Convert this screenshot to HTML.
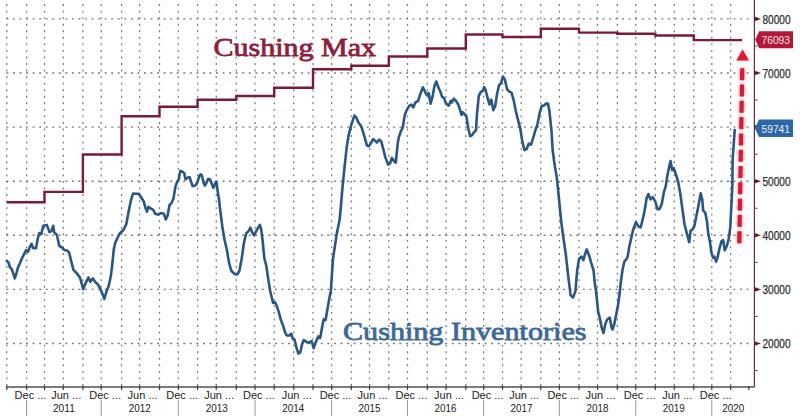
<!DOCTYPE html><html><head><meta charset="utf-8"><style>html,body{margin:0;padding:0;background:#fff;}svg{display:block}</style></head><body>
<svg width="800" height="416" viewBox="0 0 800 416">
<rect width="800" height="416" fill="#fff"/>
<line x1="6.80" y1="-2.45" x2="6.80" y2="386" stroke="#767676" stroke-width="1.25" stroke-dasharray="1.9 4.65"/>
<line x1="26.60" y1="-2.45" x2="26.60" y2="386" stroke="#767676" stroke-width="1.25" stroke-dasharray="1.9 4.65"/>
<line x1="44.50" y1="-2.45" x2="44.50" y2="386" stroke="#767676" stroke-width="1.25" stroke-dasharray="1.9 4.65"/>
<line x1="63.25" y1="-2.45" x2="63.25" y2="386" stroke="#767676" stroke-width="1.25" stroke-dasharray="1.9 4.65"/>
<line x1="82.90" y1="-2.45" x2="82.90" y2="386" stroke="#767676" stroke-width="1.25" stroke-dasharray="1.9 4.65"/>
<line x1="101.20" y1="-2.45" x2="101.20" y2="386" stroke="#767676" stroke-width="1.25" stroke-dasharray="1.9 4.65"/>
<line x1="121.60" y1="-2.45" x2="121.60" y2="386" stroke="#767676" stroke-width="1.25" stroke-dasharray="1.9 4.65"/>
<line x1="139.60" y1="-2.45" x2="139.60" y2="386" stroke="#767676" stroke-width="1.25" stroke-dasharray="1.9 4.65"/>
<line x1="159.50" y1="-2.45" x2="159.50" y2="386" stroke="#767676" stroke-width="1.25" stroke-dasharray="1.9 4.65"/>
<line x1="178.30" y1="-2.45" x2="178.30" y2="386" stroke="#767676" stroke-width="1.25" stroke-dasharray="1.9 4.65"/>
<line x1="197.60" y1="-2.45" x2="197.60" y2="386" stroke="#767676" stroke-width="1.25" stroke-dasharray="1.9 4.65"/>
<line x1="216.25" y1="-2.45" x2="216.25" y2="386" stroke="#767676" stroke-width="1.25" stroke-dasharray="1.9 4.65"/>
<line x1="236.30" y1="-2.45" x2="236.30" y2="386" stroke="#767676" stroke-width="1.25" stroke-dasharray="1.9 4.65"/>
<line x1="255.00" y1="-2.45" x2="255.00" y2="386" stroke="#767676" stroke-width="1.25" stroke-dasharray="1.9 4.65"/>
<line x1="274.20" y1="-2.45" x2="274.20" y2="386" stroke="#767676" stroke-width="1.25" stroke-dasharray="1.9 4.65"/>
<line x1="293.75" y1="-2.45" x2="293.75" y2="386" stroke="#767676" stroke-width="1.25" stroke-dasharray="1.9 4.65"/>
<line x1="313.00" y1="-2.45" x2="313.00" y2="386" stroke="#767676" stroke-width="1.25" stroke-dasharray="1.9 4.65"/>
<line x1="331.65" y1="-2.45" x2="331.65" y2="386" stroke="#767676" stroke-width="1.25" stroke-dasharray="1.9 4.65"/>
<line x1="351.30" y1="-2.45" x2="351.30" y2="386" stroke="#767676" stroke-width="1.25" stroke-dasharray="1.9 4.65"/>
<line x1="369.55" y1="-2.45" x2="369.55" y2="386" stroke="#767676" stroke-width="1.25" stroke-dasharray="1.9 4.65"/>
<line x1="388.80" y1="-2.45" x2="388.80" y2="386" stroke="#767676" stroke-width="1.25" stroke-dasharray="1.9 4.65"/>
<line x1="407.50" y1="-2.45" x2="407.50" y2="386" stroke="#767676" stroke-width="1.25" stroke-dasharray="1.9 4.65"/>
<line x1="427.30" y1="-2.45" x2="427.30" y2="386" stroke="#767676" stroke-width="1.25" stroke-dasharray="1.9 4.65"/>
<line x1="446.10" y1="-2.45" x2="446.10" y2="386" stroke="#767676" stroke-width="1.25" stroke-dasharray="1.9 4.65"/>
<line x1="465.80" y1="-2.45" x2="465.80" y2="386" stroke="#767676" stroke-width="1.25" stroke-dasharray="1.9 4.65"/>
<line x1="483.65" y1="-2.45" x2="483.65" y2="386" stroke="#767676" stroke-width="1.25" stroke-dasharray="1.9 4.65"/>
<line x1="502.50" y1="-2.45" x2="502.50" y2="386" stroke="#767676" stroke-width="1.25" stroke-dasharray="1.9 4.65"/>
<line x1="521.15" y1="-2.45" x2="521.15" y2="386" stroke="#767676" stroke-width="1.25" stroke-dasharray="1.9 4.65"/>
<line x1="540.80" y1="-2.45" x2="540.80" y2="386" stroke="#767676" stroke-width="1.25" stroke-dasharray="1.9 4.65"/>
<line x1="559.40" y1="-2.45" x2="559.40" y2="386" stroke="#767676" stroke-width="1.25" stroke-dasharray="1.9 4.65"/>
<line x1="579.00" y1="-2.45" x2="579.00" y2="386" stroke="#767676" stroke-width="1.25" stroke-dasharray="1.9 4.65"/>
<line x1="597.50" y1="-2.45" x2="597.50" y2="386" stroke="#767676" stroke-width="1.25" stroke-dasharray="1.9 4.65"/>
<line x1="617.30" y1="-2.45" x2="617.30" y2="386" stroke="#767676" stroke-width="1.25" stroke-dasharray="1.9 4.65"/>
<line x1="635.75" y1="-2.45" x2="635.75" y2="386" stroke="#767676" stroke-width="1.25" stroke-dasharray="1.9 4.65"/>
<line x1="655.30" y1="-2.45" x2="655.30" y2="386" stroke="#767676" stroke-width="1.25" stroke-dasharray="1.9 4.65"/>
<line x1="674.25" y1="-2.45" x2="674.25" y2="386" stroke="#767676" stroke-width="1.25" stroke-dasharray="1.9 4.65"/>
<line x1="693.80" y1="-2.45" x2="693.80" y2="386" stroke="#767676" stroke-width="1.25" stroke-dasharray="1.9 4.65"/>
<line x1="711.80" y1="-2.45" x2="711.80" y2="386" stroke="#767676" stroke-width="1.25" stroke-dasharray="1.9 4.65"/>
<line x1="730.60" y1="-2.45" x2="730.60" y2="386" stroke="#767676" stroke-width="1.25" stroke-dasharray="1.9 4.65"/>
<line x1="6.45" y1="343.50" x2="752" y2="343.50" stroke="#767676" stroke-width="1.4" stroke-dasharray="1.9 4.65"/>
<line x1="6.45" y1="289.40" x2="752" y2="289.40" stroke="#767676" stroke-width="1.4" stroke-dasharray="1.9 4.65"/>
<line x1="6.45" y1="235.30" x2="752" y2="235.30" stroke="#767676" stroke-width="1.4" stroke-dasharray="1.9 4.65"/>
<line x1="6.45" y1="181.20" x2="752" y2="181.20" stroke="#767676" stroke-width="1.4" stroke-dasharray="1.9 4.65"/>
<line x1="6.45" y1="127.10" x2="752" y2="127.10" stroke="#767676" stroke-width="1.4" stroke-dasharray="1.9 4.65"/>
<line x1="6.45" y1="73.00" x2="752" y2="73.00" stroke="#767676" stroke-width="1.4" stroke-dasharray="1.9 4.65"/>
<line x1="6.45" y1="18.90" x2="752" y2="18.90" stroke="#767676" stroke-width="1.4" stroke-dasharray="1.9 4.65"/>
<path d="M6.7 202.3 H44.5 V191.9 H82.9 V154.5 H121.6 V116.2 H159.5 V106.7 H197.6 V99.8 H236.3 V96 H274.2 V87.7 H313 V69.3 H351.3 V65.8 H388.8 V56.5 H427.3 V48.5 H465.8 V34.5 H502.5 V37 H540.8 V28.8 H579 V32.6 H617.3 V33.8 H655.3 V35.5 H693.8 V40.1 H742" fill="none" stroke="#7a1b38" stroke-width="2.4" stroke-linejoin="miter"/>
<line x1="754.4" y1="0" x2="754.4" y2="387" stroke="#5e3042" stroke-width="1.2"/>
<line x1="754" y1="316.45" x2="757.8" y2="316.45" stroke="#555" stroke-width="1"/>
<line x1="754" y1="262.35" x2="757.8" y2="262.35" stroke="#555" stroke-width="1"/>
<line x1="754" y1="208.25" x2="757.8" y2="208.25" stroke="#555" stroke-width="1"/>
<line x1="754" y1="154.15" x2="757.8" y2="154.15" stroke="#555" stroke-width="1"/>
<line x1="754" y1="100.05" x2="757.8" y2="100.05" stroke="#555" stroke-width="1"/>
<line x1="754" y1="45.95" x2="757.8" y2="45.95" stroke="#555" stroke-width="1"/>
<line x1="754" y1="370.55" x2="757.8" y2="370.55" stroke="#555" stroke-width="1"/>
<path d="M754.5 341.20 L761 343.50 L754.5 345.80 Z" fill="#6b1530"/>
<text x="762.5" y="348.10" font-family="Liberation Sans" font-size="12" fill="#2e2e2e" stroke="#2e2e2e" stroke-width="0.25" textLength="28" lengthAdjust="spacingAndGlyphs">20000</text>
<path d="M754.5 287.10 L761 289.40 L754.5 291.70 Z" fill="#6b1530"/>
<text x="762.5" y="294.00" font-family="Liberation Sans" font-size="12" fill="#2e2e2e" stroke="#2e2e2e" stroke-width="0.25" textLength="28" lengthAdjust="spacingAndGlyphs">30000</text>
<path d="M754.5 233.00 L761 235.30 L754.5 237.60 Z" fill="#6b1530"/>
<text x="762.5" y="239.90" font-family="Liberation Sans" font-size="12" fill="#2e2e2e" stroke="#2e2e2e" stroke-width="0.25" textLength="28" lengthAdjust="spacingAndGlyphs">40000</text>
<path d="M754.5 178.90 L761 181.20 L754.5 183.50 Z" fill="#6b1530"/>
<text x="762.5" y="185.80" font-family="Liberation Sans" font-size="12" fill="#2e2e2e" stroke="#2e2e2e" stroke-width="0.25" textLength="28" lengthAdjust="spacingAndGlyphs">50000</text>
<path d="M754.5 124.80 L761 127.10 L754.5 129.40 Z" fill="#6b1530"/>
<text x="762.5" y="131.70" font-family="Liberation Sans" font-size="12" fill="#2e2e2e" stroke="#2e2e2e" stroke-width="0.25" textLength="28" lengthAdjust="spacingAndGlyphs">60000</text>
<path d="M754.5 70.70 L761 73.00 L754.5 75.30 Z" fill="#6b1530"/>
<text x="762.5" y="77.60" font-family="Liberation Sans" font-size="12" fill="#2e2e2e" stroke="#2e2e2e" stroke-width="0.25" textLength="28" lengthAdjust="spacingAndGlyphs">70000</text>
<path d="M754.5 16.60 L761 18.90 L754.5 21.20 Z" fill="#6b1530"/>
<text x="762.5" y="23.50" font-family="Liberation Sans" font-size="12" fill="#2e2e2e" stroke="#2e2e2e" stroke-width="0.25" textLength="28" lengthAdjust="spacingAndGlyphs">80000</text>
<line x1="6.5" y1="386.9" x2="754.5" y2="386.9" stroke="#505050" stroke-width="1.5"/>
<line x1="6.80" y1="386" x2="6.80" y2="390" stroke="#3a3a3a" stroke-width="1.2"/>
<line x1="26.60" y1="386" x2="26.60" y2="390" stroke="#3a3a3a" stroke-width="1.2"/>
<line x1="44.50" y1="386" x2="44.50" y2="390" stroke="#3a3a3a" stroke-width="1.2"/>
<line x1="63.25" y1="386" x2="63.25" y2="390" stroke="#3a3a3a" stroke-width="1.2"/>
<line x1="82.90" y1="386" x2="82.90" y2="390" stroke="#3a3a3a" stroke-width="1.2"/>
<line x1="101.20" y1="386" x2="101.20" y2="390" stroke="#3a3a3a" stroke-width="1.2"/>
<line x1="121.60" y1="386" x2="121.60" y2="390" stroke="#3a3a3a" stroke-width="1.2"/>
<line x1="139.60" y1="386" x2="139.60" y2="390" stroke="#3a3a3a" stroke-width="1.2"/>
<line x1="159.50" y1="386" x2="159.50" y2="390" stroke="#3a3a3a" stroke-width="1.2"/>
<line x1="178.30" y1="386" x2="178.30" y2="390" stroke="#3a3a3a" stroke-width="1.2"/>
<line x1="197.60" y1="386" x2="197.60" y2="390" stroke="#3a3a3a" stroke-width="1.2"/>
<line x1="216.25" y1="386" x2="216.25" y2="390" stroke="#3a3a3a" stroke-width="1.2"/>
<line x1="236.30" y1="386" x2="236.30" y2="390" stroke="#3a3a3a" stroke-width="1.2"/>
<line x1="255.00" y1="386" x2="255.00" y2="390" stroke="#3a3a3a" stroke-width="1.2"/>
<line x1="274.20" y1="386" x2="274.20" y2="390" stroke="#3a3a3a" stroke-width="1.2"/>
<line x1="293.75" y1="386" x2="293.75" y2="390" stroke="#3a3a3a" stroke-width="1.2"/>
<line x1="313.00" y1="386" x2="313.00" y2="390" stroke="#3a3a3a" stroke-width="1.2"/>
<line x1="331.65" y1="386" x2="331.65" y2="390" stroke="#3a3a3a" stroke-width="1.2"/>
<line x1="351.30" y1="386" x2="351.30" y2="390" stroke="#3a3a3a" stroke-width="1.2"/>
<line x1="369.55" y1="386" x2="369.55" y2="390" stroke="#3a3a3a" stroke-width="1.2"/>
<line x1="388.80" y1="386" x2="388.80" y2="390" stroke="#3a3a3a" stroke-width="1.2"/>
<line x1="407.50" y1="386" x2="407.50" y2="390" stroke="#3a3a3a" stroke-width="1.2"/>
<line x1="427.30" y1="386" x2="427.30" y2="390" stroke="#3a3a3a" stroke-width="1.2"/>
<line x1="446.10" y1="386" x2="446.10" y2="390" stroke="#3a3a3a" stroke-width="1.2"/>
<line x1="465.80" y1="386" x2="465.80" y2="390" stroke="#3a3a3a" stroke-width="1.2"/>
<line x1="483.65" y1="386" x2="483.65" y2="390" stroke="#3a3a3a" stroke-width="1.2"/>
<line x1="502.50" y1="386" x2="502.50" y2="390" stroke="#3a3a3a" stroke-width="1.2"/>
<line x1="521.15" y1="386" x2="521.15" y2="390" stroke="#3a3a3a" stroke-width="1.2"/>
<line x1="540.80" y1="386" x2="540.80" y2="390" stroke="#3a3a3a" stroke-width="1.2"/>
<line x1="559.40" y1="386" x2="559.40" y2="390" stroke="#3a3a3a" stroke-width="1.2"/>
<line x1="579.00" y1="386" x2="579.00" y2="390" stroke="#3a3a3a" stroke-width="1.2"/>
<line x1="597.50" y1="386" x2="597.50" y2="390" stroke="#3a3a3a" stroke-width="1.2"/>
<line x1="617.30" y1="386" x2="617.30" y2="390" stroke="#3a3a3a" stroke-width="1.2"/>
<line x1="635.75" y1="386" x2="635.75" y2="390" stroke="#3a3a3a" stroke-width="1.2"/>
<line x1="655.30" y1="386" x2="655.30" y2="390" stroke="#3a3a3a" stroke-width="1.2"/>
<line x1="674.25" y1="386" x2="674.25" y2="390" stroke="#3a3a3a" stroke-width="1.2"/>
<line x1="693.80" y1="386" x2="693.80" y2="390" stroke="#3a3a3a" stroke-width="1.2"/>
<line x1="711.80" y1="386" x2="711.80" y2="390" stroke="#3a3a3a" stroke-width="1.2"/>
<line x1="730.60" y1="386" x2="730.60" y2="390" stroke="#3a3a3a" stroke-width="1.2"/>
<line x1="748.75" y1="386" x2="748.75" y2="390" stroke="#3a3a3a" stroke-width="1.2"/>
<text x="14.60" y="398.5" font-family="Liberation Sans" font-size="11" fill="#222">Dec ...</text>
<text x="51.25" y="398.5" font-family="Liberation Sans" font-size="11" fill="#222">Jun ...</text>
<text x="89.20" y="398.5" font-family="Liberation Sans" font-size="11" fill="#222">Dec ...</text>
<text x="127.60" y="398.5" font-family="Liberation Sans" font-size="11" fill="#222">Jun ...</text>
<text x="166.30" y="398.5" font-family="Liberation Sans" font-size="11" fill="#222">Dec ...</text>
<text x="204.25" y="398.5" font-family="Liberation Sans" font-size="11" fill="#222">Jun ...</text>
<text x="243.00" y="398.5" font-family="Liberation Sans" font-size="11" fill="#222">Dec ...</text>
<text x="281.75" y="398.5" font-family="Liberation Sans" font-size="11" fill="#222">Jun ...</text>
<text x="319.65" y="398.5" font-family="Liberation Sans" font-size="11" fill="#222">Dec ...</text>
<text x="357.55" y="398.5" font-family="Liberation Sans" font-size="11" fill="#222">Jun ...</text>
<text x="395.50" y="398.5" font-family="Liberation Sans" font-size="11" fill="#222">Dec ...</text>
<text x="434.10" y="398.5" font-family="Liberation Sans" font-size="11" fill="#222">Jun ...</text>
<text x="471.65" y="398.5" font-family="Liberation Sans" font-size="11" fill="#222">Dec ...</text>
<text x="509.15" y="398.5" font-family="Liberation Sans" font-size="11" fill="#222">Jun ...</text>
<text x="547.40" y="398.5" font-family="Liberation Sans" font-size="11" fill="#222">Dec ...</text>
<text x="585.50" y="398.5" font-family="Liberation Sans" font-size="11" fill="#222">Jun ...</text>
<text x="623.75" y="398.5" font-family="Liberation Sans" font-size="11" fill="#222">Dec ...</text>
<text x="662.25" y="398.5" font-family="Liberation Sans" font-size="11" fill="#222">Jun ...</text>
<text x="699.80" y="398.5" font-family="Liberation Sans" font-size="11" fill="#222">Dec ...</text>
<line x1="26.60" y1="400" x2="26.60" y2="416" stroke="#999" stroke-width="1"/>
<line x1="101.20" y1="400" x2="101.20" y2="416" stroke="#999" stroke-width="1"/>
<line x1="178.30" y1="400" x2="178.30" y2="416" stroke="#999" stroke-width="1"/>
<line x1="255.00" y1="400" x2="255.00" y2="416" stroke="#999" stroke-width="1"/>
<line x1="331.65" y1="400" x2="331.65" y2="416" stroke="#999" stroke-width="1"/>
<line x1="407.50" y1="400" x2="407.50" y2="416" stroke="#999" stroke-width="1"/>
<line x1="483.65" y1="400" x2="483.65" y2="416" stroke="#999" stroke-width="1"/>
<line x1="559.40" y1="400" x2="559.40" y2="416" stroke="#999" stroke-width="1"/>
<line x1="635.75" y1="400" x2="635.75" y2="416" stroke="#999" stroke-width="1"/>
<line x1="711.80" y1="400" x2="711.80" y2="416" stroke="#999" stroke-width="1"/>
<text x="63.90" y="411.5" font-family="Liberation Sans" font-size="11" fill="#222" text-anchor="middle" textLength="22" lengthAdjust="spacingAndGlyphs">2011</text>
<text x="139.75" y="411.5" font-family="Liberation Sans" font-size="11" fill="#222" text-anchor="middle" textLength="22" lengthAdjust="spacingAndGlyphs">2012</text>
<text x="216.65" y="411.5" font-family="Liberation Sans" font-size="11" fill="#222" text-anchor="middle" textLength="22" lengthAdjust="spacingAndGlyphs">2013</text>
<text x="293.32" y="411.5" font-family="Liberation Sans" font-size="11" fill="#222" text-anchor="middle" textLength="22" lengthAdjust="spacingAndGlyphs">2014</text>
<text x="369.57" y="411.5" font-family="Liberation Sans" font-size="11" fill="#222" text-anchor="middle" textLength="22" lengthAdjust="spacingAndGlyphs">2015</text>
<text x="445.57" y="411.5" font-family="Liberation Sans" font-size="11" fill="#222" text-anchor="middle" textLength="22" lengthAdjust="spacingAndGlyphs">2016</text>
<text x="521.52" y="411.5" font-family="Liberation Sans" font-size="11" fill="#222" text-anchor="middle" textLength="22" lengthAdjust="spacingAndGlyphs">2017</text>
<text x="597.58" y="411.5" font-family="Liberation Sans" font-size="11" fill="#222" text-anchor="middle" textLength="22" lengthAdjust="spacingAndGlyphs">2018</text>
<text x="673.77" y="411.5" font-family="Liberation Sans" font-size="11" fill="#222" text-anchor="middle" textLength="22" lengthAdjust="spacingAndGlyphs">2019</text>
<text x="733.15" y="411.5" font-family="Liberation Sans" font-size="11" fill="#222" text-anchor="middle" textLength="22" lengthAdjust="spacingAndGlyphs">2020</text>
<path d="M6.8 261.0 L8.6 262.7 L9.9 267.3 L11.7 269.0 L13.0 272.7 L14.8 278.4 L16.6 272.7 L18.0 267.3 L19.8 263.6 L21.6 259.1 L24.3 253.7 L26.1 250.1 L27.9 251.9 L29.7 247.4 L31.5 243.8 L33.3 248.3 L36.0 248.3 L37.8 238.4 L39.3 233.0 L41.4 233.9 L43.2 225.8 L46.8 224.9 L49.5 232.1 L51.4 231.2 L53.2 225.8 L54.1 232.1 L56.8 234.8 L59.3 246.0 L61.5 247.0 L64.7 250.3 L66.9 250.3 L69.1 252.5 L71.2 261.1 L73.4 269.8 L76.6 273.0 L79.9 277.4 L82.1 284.9 L83.1 289.3 L85.3 283.9 L88.5 277.4 L90.3 281.7 L92.9 278.4 L95.0 281.7 L98.3 284.9 L101.5 291.4 L104.4 299.0 L106.5 291.4 L108.7 286.0 L110.8 276.3 L112.2 265.0 L113.8 249.2 L115.3 242.5 L117.2 238.7 L119.5 233.8 L123.4 230.0 L126.3 224.2 L128.2 213.7 L130.7 201.2 L133.0 193.5 L135.9 193.8 L138.8 193.8 L141.7 198.3 L143.6 201.2 L145.5 207.9 L147.0 211.7 L148.4 206.9 L151.3 208.8 L153.2 209.8 L155.1 213.7 L158.0 214.6 L160.9 213.1 L163.8 213.7 L165.7 219.4 L167.6 215.6 L169.5 205.0 L171.5 203.1 L173.4 198.7 L175.4 186.9 L177.1 181.8 L178.7 179.7 L179.6 174.3 L180.4 170.9 L181.7 171.3 L182.9 172.2 L184.2 173.0 L185.5 179.3 L186.7 178.5 L188.4 177.2 L189.7 177.2 L190.9 181.4 L192.6 186.0 L194.3 186.0 L196.0 184.8 L197.7 181.4 L199.4 175.9 L200.6 174.3 L201.9 175.5 L203.6 182.7 L204.8 185.6 L206.5 182.7 L208.2 178.9 L209.9 179.3 L211.6 183.1 L213.2 187.7 L214.5 185.6 L215.8 181.8 L216.6 182.7 L217.9 192.8 L219.1 200.0 L220.0 208.3 L222.3 226.5 L224.6 240.2 L226.8 249.4 L229.1 263.1 L231.4 271.0 L234.8 274.0 L237.1 274.5 L239.4 271.0 L241.7 258.5 L244.0 242.5 L246.2 233.4 L248.5 231.1 L250.4 227.7 L252.5 233.0 L254.1 235.4 L257.1 229.3 L259.8 224.8 L261.2 229.3 L262.7 241.5 L264.3 257.9 L266.3 266.0 L268.4 280.3 L270.4 292.0 L273.1 303.0 L274.9 302.1 L276.7 305.8 L278.5 311.2 L281.2 321.1 L283.1 325.6 L284.9 331.9 L286.7 335.5 L289.4 335.5 L291.2 333.7 L293.0 339.2 L294.4 339.2 L296.6 348.2 L298.4 353.6 L300.2 352.7 L302.0 344.6 L303.8 340.1 L306.5 341.9 L309.2 342.8 L311.6 341.0 L313.7 348.2 L315.5 342.8 L318.2 336.4 L320.1 338.2 L321.9 328.3 L323.7 319.3 L325.5 320.2 L327.3 310.3 L329.1 299.4 L330.9 290.4 L332.9 259.4 L336.9 232.9 L339.6 219.7 L340.9 206.5 L342.2 190.6 L344.8 164.6 L346.7 147.3 L348.7 134.8 L351.5 124.2 L354.4 115.6 L356.3 117.5 L358.3 122.3 L361.2 126.2 L363.1 131.9 L365.0 138.7 L366.9 145.4 L368.8 146.3 L370.8 143.5 L373.1 139.2 L375.0 140.6 L376.9 142.5 L379.4 139.6 L381.3 141.5 L383.3 149.2 L385.2 156.9 L388.1 164.6 L390.0 163.7 L391.9 157.9 L393.8 160.8 L395.8 162.7 L397.7 143.5 L398.8 137.3 L400.8 131.5 L402.7 127.7 L404.6 116.2 L406.5 110.4 L409.4 105.6 L411.3 104.6 L413.3 107.5 L415.2 102.7 L418.1 100.8 L420.0 95.0 L422.9 87.3 L424.8 91.2 L426.7 95.0 L428.7 93.1 L430.6 103.7 L432.5 96.9 L434.4 86.3 L436.3 81.5 L438.3 87.3 L440.2 91.2 L442.1 96.9 L444.0 97.9 L446.0 103.7 L448.8 105.6 L450.8 100.8 L451.9 102.5 L453.8 98.7 L455.8 100.6 L457.7 103.5 L459.6 108.3 L461.5 115.0 L462.5 112.1 L464.4 114.0 L466.3 116.0 L468.3 128.5 L470.2 136.2 L472.1 135.2 L474.0 132.3 L476.0 130.4 L476.9 115.0 L478.8 95.8 L480.8 91.9 L482.7 91.0 L484.2 87.1 L485.6 90.0 L487.5 97.7 L489.4 104.4 L491.3 99.6 L493.3 110.2 L495.2 106.3 L497.1 93.8 L499.0 85.2 L501.0 83.3 L502.9 76.5 L504.8 79.4 L507.2 89.5 L509.3 91.6 L511.5 92.7 L513.7 100.3 L515.8 111.1 L518.0 119.8 L520.2 128.4 L522.3 141.4 L524.5 150.1 L526.6 149.0 L528.8 143.6 L531.0 144.7 L533.1 138.2 L535.3 130.6 L537.5 124.1 L539.6 113.3 L541.8 105.7 L544.0 105.7 L546.1 103.5 L547.9 103.5 L549.4 111.1 L551.5 130.6 L552.6 150.0 L554.7 165.2 L556.9 178.1 L559.1 199.8 L561.2 221.4 L563.4 238.0 L565.8 254.2 L568.2 275.9 L570.6 295.1 L573.0 297.5 L575.4 291.5 L577.1 271.1 L579.0 259.0 L581.4 256.6 L583.4 260.2 L585.0 254.2 L586.7 249.4 L589.1 255.4 L591.1 262.6 L593.5 270.0 L594.5 280.8 L596.3 293.4 L598.1 311.4 L599.9 318.6 L601.7 327.7 L603.5 333.1 L605.3 324.1 L607.1 319.5 L609.8 317.7 L611.6 327.7 L612.5 329.5 L614.3 324.1 L616.1 315.0 L617.9 306.0 L619.7 293.0 L620.6 283.5 L622.5 270.0 L624.4 261.3 L626.3 259.4 L627.7 256.5 L629.2 247.0 L631.2 238.3 L633.1 230.0 L634.5 226.0 L636.0 222.2 L638.4 226.4 L640.6 227.5 L642.3 221.0 L644.5 211.3 L646.6 198.3 L648.4 194.0 L650.5 199.4 L652.7 197.2 L655.3 201.5 L657.5 209.1 L659.6 209.1 L661.8 203.7 L664.0 191.8 L665.7 186.4 L667.2 176.6 L669.4 165.8 L670.5 161.1 L672.2 170.2 L673.7 168.0 L675.9 174.5 L678.0 181.0 L680.2 192.9 L682.4 209.1 L684.5 224.3 L686.7 232.9 L689.2 242.1 L690.6 230.6 L692.5 229.6 L694.4 225.8 L696.3 216.2 L698.3 206.5 L700.7 193.2 L702.2 199.3 L703.2 210.6 L705.2 212.6 L706.9 220.8 L708.3 234.1 L709.7 240.2 L711.4 252.5 L713.0 257.6 L714.4 256.6 L716.1 261.7 L717.5 257.6 L719.5 248.4 L721.6 241.2 L723.2 240.2 L724.7 250.4 L726.7 246.3 L728.7 239.2 L730.2 227.9 L731.4 205.4 L732.4 185.0 L732.6 160.0 L734.7 130.0" fill="none" stroke="#2a5683" stroke-width="2.6" stroke-linejoin="round" stroke-linecap="round"/>
<defs><filter id="gl" x="-2" y="-0.2" width="5" height="1.4"><feGaussianBlur stdDeviation="1.8"/></filter></defs>
<g filter="url(#gl)" opacity="0.75"><line x1="739.3" y1="243.2" x2="742.3" y2="66" stroke="#ff8a96" stroke-width="6" stroke-dasharray="12 4.3"/><path d="M742.6 49.5 L736.3 60.5 L749 60.5 Z" fill="#ff8a96"/></g>
<line x1="739.3" y1="243.2" x2="742.3" y2="66" stroke="#d81a32" stroke-width="4.2" stroke-dasharray="12 4.3"/>
<path d="M742.6 49.5 L736.3 60.5 L749 60.5 Z" fill="#dc1a30"/>
<path d="M755.2 39.7 L759.2 31.3 H793 V48.3 H759.2 Z" fill="#b3173a"/>
<text x="761.5" y="44" font-family="Liberation Sans" font-size="11.5" fill="#fbe3e8" textLength="28.5" lengthAdjust="spacingAndGlyphs">76093</text>
<path d="M755 128.2 L759 119.5 H793 V137 H759 Z" fill="#2c66a6"/>
<text x="761.5" y="132.6" font-family="Liberation Sans" font-size="11.5" fill="#eaf3fb" textLength="28.5" lengthAdjust="spacingAndGlyphs">59741</text>
<text x="213.5" y="55.8" font-family="Liberation Serif" font-size="26" fill="#901d3b" stroke="#901d3b" stroke-width="0.8" textLength="162.5" lengthAdjust="spacingAndGlyphs">Cushing Max</text>
<text x="343" y="340.1" font-family="Liberation Serif" font-size="25" fill="#3a6898" stroke="#3f6b9c" stroke-width="0.8" textLength="243.5" lengthAdjust="spacingAndGlyphs">Cushing Inventories</text>
</svg></body></html>
